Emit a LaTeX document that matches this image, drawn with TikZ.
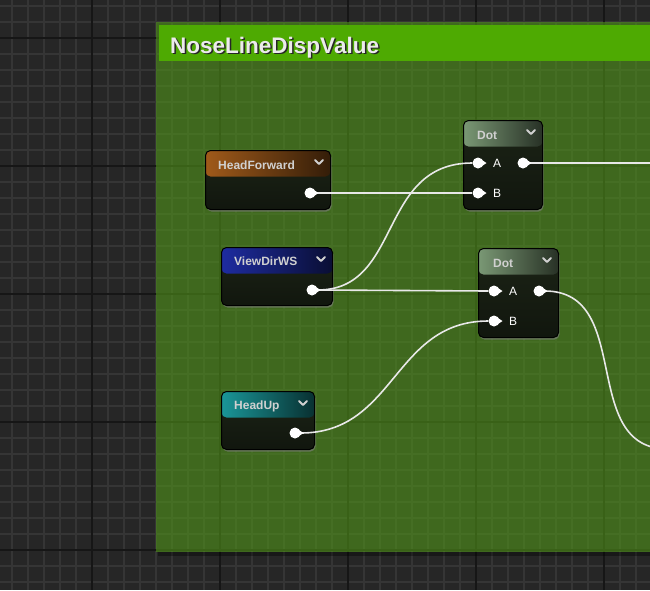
\documentclass[tikz,border=0pt]{standalone}
\usepackage{fontspec}
\setmainfont{Liberation Sans}
\usetikzlibrary{positioning,calc,shadows}

\definecolor{canvasbg}{HTML}{262626}
\definecolor{gridline}{HTML}{353535}
\definecolor{gridbold}{HTML}{161616}
\definecolor{commentfill}{HTML}{519419}
\definecolor{commenthead}{HTML}{4EAA02}
\definecolor{bodytop}{HTML}{1C2416}
\definecolor{bodybot}{HTML}{11160E}
\definecolor{wirecol}{HTML}{E8E8E8}
\definecolor{titlegray}{HTML}{D0D0D0}
\definecolor{hdrorange}{HTML}{A05A1A}
\definecolor{hdrblue}{HTML}{1E2CA0}
\definecolor{hdrteal}{HTML}{1A9698}
\definecolor{hdrdot}{HTML}{7A9874}

\begin{document}
\begin{tikzpicture}[
    x=1pt, y=-1pt,
    gridminor/.style={draw=gridline, line width=2pt},
    gridmajor/.style={draw=gridbold, line width=2pt},
    matnode/.style={rectangle, rounded corners=5pt, draw=black, line width=1pt,
        top color=bodytop, bottom color=bodybot, anchor=north west, inner sep=0pt,
        drop shadow={shadow xshift=1pt, shadow yshift=-2pt, opacity=0.6},
        path picture={\shade[left color=#1, right color=#1!32!black]
            (path picture bounding box.north west) rectangle
            ([yshift=-26pt]path picture bounding box.north east);}},
    nodetitle/.style={anchor=base west, inner sep=0pt, text=titlegray,
        font=\fontsize{12}{14}\selectfont\bfseries},
    pinlabel/.style={anchor=west, inner sep=0pt, text=white,
        font=\fontsize{12}{14}\selectfont},
    commenttitle/.style={anchor=base west, inner sep=0pt,
        font=\fontsize{22.5}{27}\selectfont\bfseries},
    socket/.style={circle, fill=white, inner sep=0pt, minimum size=11pt},
    chevron/.style={draw=titlegray, line width=2pt, line cap=round, line join=round},
    wire/.style={draw=wirecol, line width=1.6pt},
]
    \useasboundingbox (0,0) rectangle (650,590);
    \clip (0,0) rectangle (650,590);

    % canvas grid
    \fill[canvasbg] (0,0) rectangle (650,590);
    \foreach \gx in {12,28,...,652} \draw[gridminor] (\gx,0) -- (\gx,590);
    \foreach \gy in {6,22,...,590} \draw[gridminor] (0,\gy) -- (650,\gy);
    \foreach \gx in {92,220,...,604} \draw[gridmajor] (\gx,0) -- (\gx,590);
    \foreach \gy in {38,166,...,550} \draw[gridmajor] (0,\gy) -- (650,\gy);

    % comment box
    \fill[commentfill, fill opacity=0.6] (156,22) rectangle (660,552);
    \fill[black, opacity=0.35] (158,552) rectangle (660,556);
    \fill[commenthead] (159,25) rectangle (660,61);
    \node[commenttitle, text=black!85] (title-shadow) at (171.5,54.5) {NoseLineDispValue};
    \node[commenttitle, text=white!92!black] (title) at (170,53) {NoseLineDispValue};

    % nodes
    \node[matnode=hdrorange, minimum width=125pt, minimum height=59pt] (hf) at (205,150) {};
    \node[matnode=hdrblue, minimum width=111pt, minimum height=58pt] (vd) at (221,247) {};
    \node[matnode=hdrteal, minimum width=93pt, minimum height=58pt] (hu) at (221,391) {};
    \node[matnode=hdrdot, minimum width=79pt, minimum height=89pt] (dot1) at (463,120) {};
    \node[matnode=hdrdot, minimum width=80pt, minimum height=89pt] (dot2) at (478,248) {};

    \node[nodetitle] (hf-t) at ([xshift=13pt, yshift=-19pt]hf.north west) {HeadForward};
    \node[nodetitle] (vd-t) at ([xshift=13pt, yshift=-18pt]vd.north west) {ViewDirWS};
    \node[nodetitle] (hu-t) at ([xshift=13pt, yshift=-18pt]hu.north west) {HeadUp};
    \node[nodetitle] (dot1-t) at ([xshift=14pt, yshift=-19pt]dot1.north west) {Dot};
    \node[nodetitle] (dot2-t) at ([xshift=15pt, yshift=-19pt]dot2.north west) {Dot};

    \foreach \n in {hf,vd,hu,dot1,dot2}
        \draw[chevron] ([xshift=-12pt, yshift=-12pt]\n.north east) ++(-4,-2) -- ++(4,4) -- ++(4,-4);

    % pins
    \node[socket] (hf-out) at (310,193) {};
    \node[socket] (vd-out) at (312,290) {};
    \node[socket] (hu-out) at (295,433) {};
    \node[socket] (dot1-a) at (478,163) {};
    \node[socket] (dot1-b) at (478,193) {};
    \node[socket] (dot1-out) at (523,163) {};
    \node[socket] (dot2-a) at (494,291) {};
    \node[socket] (dot2-b) at (494,321) {};
    \node[socket] (dot2-out) at (539,291) {};

    \node[pinlabel] (dot1-a-l) at ([xshift=15pt]dot1-a.center) {A};
    \node[pinlabel] (dot1-b-l) at ([xshift=15pt]dot1-b.center) {B};
    \node[pinlabel] (dot2-a-l) at ([xshift=15pt]dot2-a.center) {A};
    \node[pinlabel] (dot2-b-l) at ([xshift=15pt]dot2-b.center) {B};

    % wires
    \coordinate (edge1) at (660,163);
    \coordinate (edge2) at (668,449);
    \draw[wire] (hf-out.east) -- (dot1-b.west);
    \draw[wire] (vd-out.east) -- (dot2-a.west);
    \draw[wire] (vd-out.east) .. controls +(85,0) and +(-95,0) .. (dot1-a.west);
    \draw[wire] (hu-out.east) .. controls +(95,0) and +(-95,0) .. (dot2-b.west);
    \draw[wire] (dot1-out.east) -- (edge1);
    \draw[wire] (dot2-out.east) .. controls +(90,0) and +(-90,0) .. (edge2);

    \foreach \s in {hf-out,vd-out,hu-out,dot1-a,dot1-b,dot1-out,dot2-a,dot2-b,dot2-out}
        \fill[white] ([xshift=4pt, yshift=3pt]\s.center) -- ([xshift=8.5pt]\s.center)
            -- ([xshift=4pt, yshift=-3pt]\s.center) -- cycle;
\end{tikzpicture}
\end{document}
